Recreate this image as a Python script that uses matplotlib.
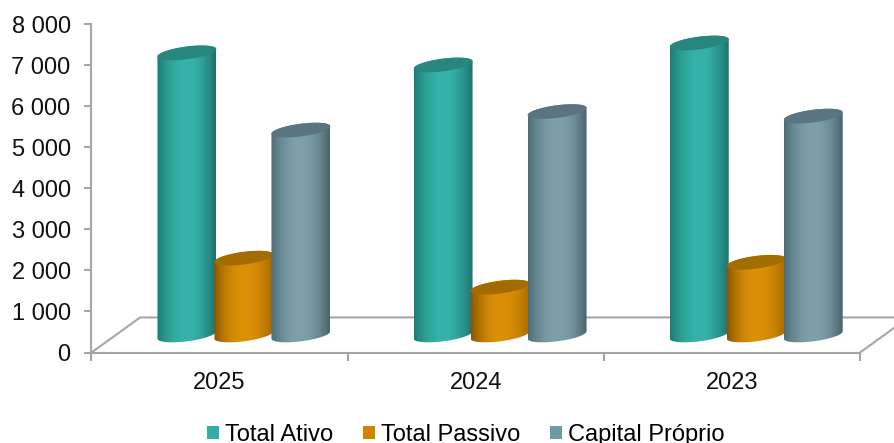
import numpy as np
import matplotlib
matplotlib.use('Agg')
import matplotlib.pyplot as plt
from matplotlib.colors import LinearSegmentedColormap
from matplotlib.patches import Patch, Polygon

plt.rcParams['font.family'] = ['Liberation Sans', 'DejaVu Sans']

years = ['2025', '2024', '2023']
total_ativo = [6870, 6575, 7110]
total_passivo = [1870, 1165, 1770]
capital_proprio = [4990, 5440, 5330]
series_names = ['Total Ativo', 'Total Passivo', 'Capital Próprio']
y_ticks = [0, 1000, 2000, 3000, 4000, 5000, 6000, 7000, 8000]
y_labels = ['0', '1 000', '2 000', '3 000', '4 000', '5 000', '6 000', '7 000', '8 000']

# left edge, middle, right edge of each cylinder, then the lid and legend colour
teal = ['#1b7d74', '#35b3aa', '#1c7169', '#27877f', '#33ada6']
orange = ['#8a5600', '#dc9006', '#a56a00', '#a36c00', '#d08400']
slate = ['#4f6c75', '#7da0ac', '#4a636b', '#5a7580', '#7398a5']

fig = plt.figure(figsize=(8.95, 4.43), dpi=100)
ax = fig.add_axes([91.5 / 895, 1 - 352.5 / 443, 768.5 / 895, 328.5 / 443])
ax.set_xlim(0, 3)
ax.set_ylim(0, 8000)

bar_w = 0.23
step = 0.2225
depth_x = 0.19    # floor depth in category units
depth_y = 854     # floor depth in value units


def ellipse(cx, cy, t):
    # tilted ring, right side sits a bit higher than the left
    x = cx + bar_w / 2 * np.cos(t)
    y = cy + 155 * np.sin(t) + 90 * np.cos(t)
    return np.column_stack([x, y])


def cylinder(cx, value, colors):
    base = depth_y / 2
    top = base + value
    low = ellipse(cx, base, np.linspace(np.pi, 2 * np.pi, 60))
    high = ellipse(cx, top, np.linspace(0, np.pi, 60))
    body = Polygon(np.vstack([low, high]), closed=True, transform=ax.transData,
                   facecolor='none', edgecolor='none')
    ax.add_patch(body)
    cmap = LinearSegmentedColormap.from_list('cyl', [(0, colors[0]), (0.5, colors[1]), (1, colors[2])])
    # dark only near the edges, flat light band in the middle
    s = np.linspace(-1, 1, 128)
    grad = (0.5 + 0.5 * np.sign(s) * np.abs(s) ** 2).reshape(1, -1)
    im = ax.imshow(grad, cmap=cmap, aspect='auto', zorder=3,
                   extent=[cx - bar_w / 2, cx + bar_w / 2, 0, top + 300])
    im.set_clip_path(body)
    lid = ellipse(cx, top, np.linspace(0, 2 * np.pi, 120))
    ax.add_patch(Polygon(lid, closed=True, facecolor=colors[3], edgecolor='none', zorder=3))


# floor of the 3D box
grey = '#a6a6a6'
ax.plot([0, depth_x, 3 + depth_x], [0, depth_y, depth_y], color=grey, lw=1.5, clip_on=False, zorder=1)
ax.plot([3, 3 + depth_x], [0, depth_y], color=grey, lw=1.5, clip_on=False, zorder=1)

for i in range(len(years)):
    center = i + 0.5 + depth_x / 2
    cylinder(center - step, total_ativo[i], teal)
    cylinder(center, total_passivo[i], orange)
    cylinder(center + step, capital_proprio[i], slate)

ax.set_xlim(0, 3)
ax.set_ylim(0, 8000)
for side in ['top', 'right']:
    ax.spines[side].set_visible(False)
for side in ['left', 'bottom']:
    ax.spines[side].set_color(grey)
    ax.spines[side].set_linewidth(1.5)

ax.set_yticks(y_ticks)
ax.set_yticklabels(y_labels, fontsize=17, color='#111111')
ax.tick_params(axis='y', color=grey, width=1.5, length=5, pad=10)
ax.set_xticks([0, 1, 2, 3])
ax.set_xticklabels([])
ax.tick_params(axis='x', which='major', color=grey, width=1.5, length=6)
ax.set_xticks([0.5, 1.5, 2.5], minor=True)
ax.set_xticklabels(years, minor=True, fontsize=17, color='#111111')
ax.tick_params(axis='x', which='minor', length=0, pad=14)

handles = [Patch(facecolor=teal[4]), Patch(facecolor=orange[4]), Patch(facecolor=slate[4])]
fig.legend(handles, series_names, ncol=3, frameon=False, fontsize=17,
           loc='lower left', bbox_to_anchor=(186 / 895, -0.055),
           handlelength=0.5, handleheight=0.5, handletextpad=0.25, columnspacing=1.27)

fig.savefig('out.png', dpi=100, facecolor='white')
